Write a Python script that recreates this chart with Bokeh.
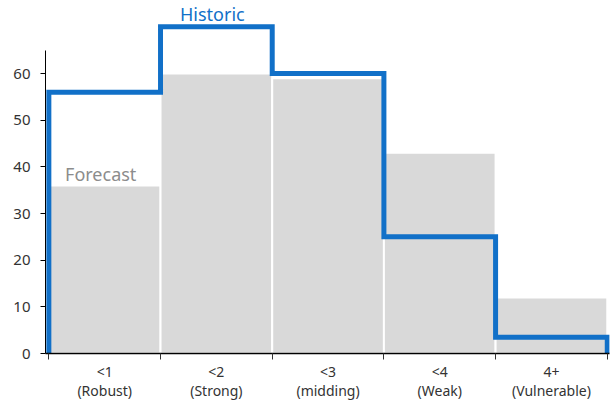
from bokeh.plotting import figure
from bokeh.models import FixedTicker, Range1d, ColumnDataSource
from bokeh.core.properties import value
from bokeh.embed import file_html
from bokeh.resources import INLINE

# Score buckets and shares
categories = ["<1\n(Robust)", "<2\n(Strong)", "<3\n(midding)", "<4\n(Weak)", "4+\n(Vulnerable)"]
forecast = [36, 60, 59, 43, 12]
historic = [56, 70, 60, 25, 3.5]
y_ticks = [0, 10, 20, 30, 40, 50, 60]

FONT = "Noto Sans"
BLUE = "#1170C8"
GREY_BAR = "#D9D9D9"
TEXT = "#333333"

n = len(categories)
centers = [i + 0.5 for i in range(n)]

p = figure(width=614, height=403, output_backend="svg", toolbar_location=None,
           x_range=Range1d(-0.03, n + 0.02), y_range=Range1d(0, 75),
           min_border_left=45, min_border_right=5, min_border_top=3, min_border_bottom=50)
p.outline_line_color = None
p.grid.grid_line_color = None
p.background_fill_color = "white"
p.border_fill_color = "white"

# Forecast bars
src = ColumnDataSource(dict(x=centers, top=forecast))
p.vbar(x="x", top="top", bottom=0, width=1.0, source=src,
       fill_color=GREY_BAR, line_color="white", line_width=2)

# Historic outline as a step curve closed down to zero at both ends
xs, ys = [0], [0]
for i, v in enumerate(historic):
    xs += [i, i + 1]
    ys += [v, v]
xs.append(n)
ys.append(0)
p.line(xs, ys, line_color=BLUE, line_width=5, line_join="miter")

# Series labels
p.text(x=[1.5], y=[historic[1]], text=["Historic"], text_align="center",
       text_baseline="bottom", y_offset=-1, x_offset=-4,
       text_font=value(FONT), text_font_size="18px", text_color=BLUE)
p.text(x=[0.5], y=[forecast[0]], text=["Forecast"], text_align="center",
       text_baseline="bottom", y_offset=0, x_offset=-4,
       text_font=value(FONT), text_font_size="18px", text_color="#8C8C8C")

# X axis: labels at bucket centres, ticks at bucket boundaries
xa = p.xaxis[0]
xa.ticker = FixedTicker(ticks=centers, minor_ticks=list(range(n + 1)))
xa.major_label_overrides = {c: lab for c, lab in zip(centers, categories)}
xa.major_tick_line_color = None
xa.major_tick_out = 0
xa.major_tick_in = 0
xa.minor_tick_line_color = "#333333"
xa.minor_tick_out = 6
xa.minor_tick_in = 0
xa.axis_line_color = "black"
xa.axis_line_width = 1.5
xa.major_label_standoff = 2
xa.major_label_text_line_height = 1.0
xa.major_label_text_font = FONT
xa.major_label_text_font_size = "14px"
xa.major_label_text_color = TEXT

# Y axis
ya = p.yaxis[0]
ya.ticker = FixedTicker(ticks=y_ticks)
ya.bounds = (0, 65)
ya.axis_line_color = "black"
ya.major_tick_line_color = "black"
ya.major_tick_out = 5
ya.major_tick_in = 0
ya.minor_tick_line_color = None
ya.major_label_standoff = 10
ya.major_label_text_font = FONT
ya.major_label_text_font_size = "15px"
ya.major_label_text_color = TEXT

open("out.html", "w").write(file_html(p, INLINE))
